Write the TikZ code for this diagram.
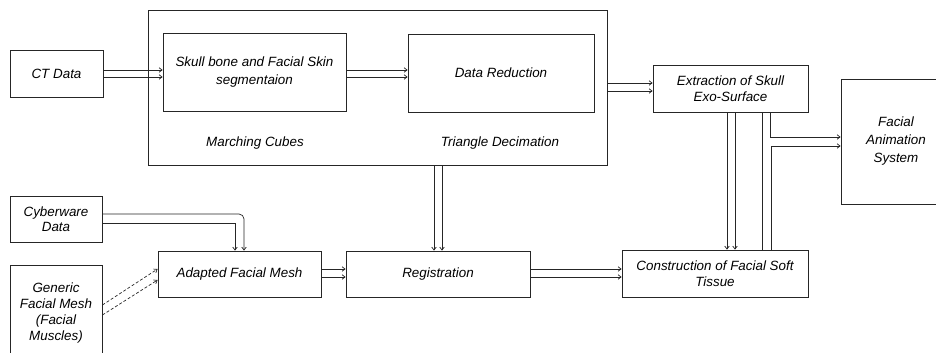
\documentclass[tikz,border=0pt]{standalone}
\usepackage{fontspec}
\setmainfont{Liberation Sans}
\usetikzlibrary{arrows.meta,calc}
\begin{document}
\begin{tikzpicture}[x=1pt,y=-1pt,
  box/.style={draw=black!85,line width=0.8pt,inner sep=2pt,align=center,
    font=\fontsize{13.4}{17}\selectfont\itshape},
  lbl/.style={inner sep=0pt,font=\fontsize{13.4}{17}\selectfont\itshape},
  arr/.style={draw=black!85,line width=0.7pt,-{Straight Barb[length=3pt,width=4.5pt]}},
  ln/.style={draw=black!85,line width=0.7pt}]
\useasboundingbox (0,0) rectangle (936,353);
% outer process box
\node[box,minimum width=459pt,minimum height=155pt] (outer) at (377.5,87.5) {};
\node[box,minimum width=183pt,minimum height=78pt,font=\fontsize{13.4}{18}\selectfont\itshape] (skull) at (254.5,72) {Skull bone and Facial Skin\\segmentaion};
\node[box,minimum width=186pt,minimum height=78pt] (datared) at (501,73) {Data Reduction};
\node[lbl] (mc) at (255,143) {Marching Cubes};
\node[lbl] (td) at (500,143) {Triangle Decimation};
% other boxes
\node[box,minimum width=93pt,minimum height=47pt] (ct) at (56.5,73.5) {CT Data};
\node[box,minimum width=155pt,minimum height=47pt,font=\fontsize{13.4}{16}\selectfont\itshape] (extr) at (730.5,88.5) {Extraction of Skull\\Exo-Surface};
\node[box,minimum width=110pt,minimum height=125pt,font=\fontsize{13.4}{18}\selectfont\itshape] (fas) at (896,141.5) {Facial\\Animation\\System};
\node[box,minimum width=92pt,minimum height=46pt,font=\fontsize{13.4}{15}\selectfont\itshape] (cyber) at (56,219) {Cyberware\\Data};
\node[box,minimum width=92pt,minimum height=97pt,font=\fontsize{13.4}{16}\selectfont\itshape] (gen) at (56,313.5) {Generic\\Facial Mesh\\(Facial\\Muscles)};
\node[box,minimum width=163pt,minimum height=46pt] (adapt) at (239.5,274) {Adapted Facial Mesh};
\node[box,minimum width=184pt,minimum height=46pt] (reg) at (438,274) {Registration};
\node[box,minimum width=186pt,minimum height=47pt,font=\fontsize{13.4}{16}\selectfont\itshape] (cons) at (715,273.5) {Construction of Facial Soft\\Tissue};
% connectors
\draw[arr] (ct.east |- 0,70) -- (skull.west |- 0,70);
\draw[arr] (ct.east |- 0,77) -- (skull.west |- 0,77);
\draw[arr] (skull.east |- 0,70) -- (datared.west |- 0,70);
\draw[arr] (skull.east |- 0,77) -- (datared.west |- 0,77);
\draw[arr] (outer.east |- 0,83) -- (extr.west |- 0,83);
\draw[arr] (outer.east |- 0,91) -- (extr.west |- 0,91);
\draw[arr] (outer.south -| 434,0) -- (reg.north -| 434,0);
\draw[arr] (outer.south -| 442,0) -- (reg.north -| 442,0);
\draw[arr] (extr.south -| 727,0) -- (cons.north -| 727,0);
\draw[arr] (extr.south -| 735,0) -- (cons.north -| 735,0);
\draw[ln] (extr.south -| 762,0) -- (cons.north -| 762,0);
\draw[arr] (extr.south -| 770,0) -- (770,137) -- (fas.west |- 0,137);
\draw[arr] (cons.north -| 771,0) -- (771,146) -- (fas.west |- 0,146);
\draw[arr,rounded corners=5pt] (cyber.east |- 0,214) -- (244,214) -- (adapt.north -| 244,0);
\draw[arr] (cyber.east |- 0,223) -- (235,223) -- (adapt.north -| 235,0);
\draw[arr,densely dashed] (gen.east |- 0,305) -- (adapt.west |- 0,269);
\draw[arr,densely dashed] (gen.east |- 0,315) -- (adapt.west |- 0,280);
\draw[arr] (adapt.east |- 0,269) -- (reg.west |- 0,269);
\draw[arr] (adapt.east |- 0,277) -- (reg.west |- 0,277);
\draw[arr] (reg.east |- 0,269) -- (cons.west |- 0,269);
\draw[arr] (reg.east |- 0,277) -- (cons.west |- 0,277);
\end{tikzpicture}
\end{document}
